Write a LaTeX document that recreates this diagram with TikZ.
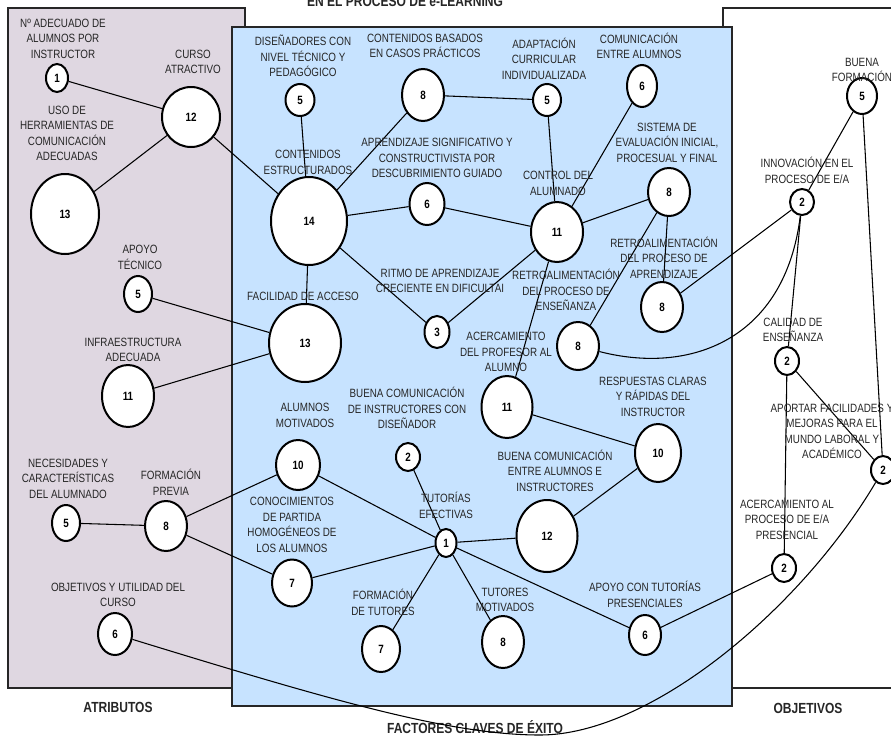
\documentclass[tikz,border=0pt]{standalone}
\usepackage{fontspec}
\setmainfont{Liberation Sans}[FakeStretch=0.82]
\usetikzlibrary{shapes.geometric}
\definecolor{mauve}{HTML}{DFD7E1}
\definecolor{skyb}{HTML}{C7E3FF}
\definecolor{txtgray}{HTML}{262626}
\tikzset{
  num/.style={ellipse, draw=black, line width=1.5pt, fill=white, inner sep=0pt,
    font=\fontsize{9}{11}\selectfont\bfseries},
  lbl/.style={align=center, inner sep=0pt, text=txtgray, font=\fontsize{9}{11.6}\selectfont},
  captxt/.style={anchor=base, inner sep=0pt, text=txtgray, font=\fontsize{11}{13}\selectfont\bfseries},
  link/.style={line width=0.8pt, draw=black},
  panel/.style={line width=2pt, draw=black!85},
}
\newcommand\nd[6]{\node[num, minimum width=#4*1.5pt, minimum height=#5*1.5pt] (#1) at (#2,#3) {#6};}
\begin{document}
\begin{tikzpicture}[x=0.75pt, y=-0.75pt]
\useasboundingbox (0,0) rectangle (891,736);
% panels
\draw[panel, fill=mauve] (8,8) rectangle (245,688);
\draw[panel, fill=white] (723,8) rectangle (905,688);
\draw[panel, fill=skyb] (232,27) rectangle (732,706);
% captions
\node[captxt] (ttl) at (405,6) {EN EL PROCESO DE e-LEARNING};
\node[captxt] (capA) at (118,712) {ATRIBUTOS};
\node[captxt] (capF) at (475,733) {FACTORES CLAVES DE ÉXITO};
\node[captxt] (capO) at (808,713) {OBJETIVOS};
% nodes: atributos
\nd{a1}{57}{78}{11}{14}{1}
\nd{a12}{191}{117}{29}{30}{12}
\nd{a13}{65}{214}{34}{40}{13}
\nd{a5}{138}{294}{14}{18}{5}
\nd{a11}{128}{396}{26}{31}{11}
\nd{a5b}{66}{523}{14}{18}{5}
\nd{a8}{166}{526}{21}{25}{8}
\nd{a6}{115}{634}{17}{21}{6}
% nodes: factores
\nd{f5a}{300}{100}{14.5}{16}{5}
\nd{f8a}{423}{95}{21}{26}{8}
\nd{f5b}{547}{100}{14}{16}{5}
\nd{f6b}{642}{86}{15}{21}{6}
\nd{f14}{309}{221}{38}{44}{14}
\nd{f6a}{427}{204}{17.5}{21}{6}
\nd{f11}{557}{232}{26}{30}{11}
\nd{f8b}{669}{192}{21}{24}{8}
\nd{f3}{437}{332}{12.5}{16}{3}
\nd{f13}{305}{343}{36}{39}{13}
\nd{f8d}{578}{346}{21}{24}{8}
\nd{f8c}{662}{307}{21}{25}{8}
\nd{f11b}{507}{407}{25.5}{31}{11}
\nd{f2b}{408}{457}{12}{14}{2}
\nd{f10a}{298}{465}{22}{25}{10}
\nd{f10b}{658}{453}{23}{29}{10}
\nd{f1b}{446}{543}{10.5}{14}{1}
\nd{f12b}{547}{536}{30.5}{36}{12}
\nd{f7a}{292}{583}{20}{23.5}{7}
\nd{f7b}{381}{649}{19}{23}{7}
\nd{f8f}{503}{642}{21}{26}{8}
\nd{f6d}{645}{635}{16}{20}{6}
% nodes: objetivos
\nd{o5}{862}{96}{15}{18}{5}
\nd{o2a}{802}{202}{12}{13}{2}
\nd{o2c}{787}{361}{12}{14}{2}
\nd{o2d}{883}{470}{12}{14}{2}
\nd{o2e}{784}{568}{12}{14}{2}
\coordinate (low) at (540,735);
% connectors
\draw[link] (a1) -- (a12);
\draw[link] (a13) -- (a12);
\draw[link] (a12) -- (f14);
\draw[link] (f5a) -- (f14);
\draw[link] (f8a) -- (f14);
\draw[link] (f14) -- (f6a);
\draw[link] (f6a) -- (f11);
\draw[link] (f14) -- (f13);
\draw[link] (f14) -- (f3);
\draw[link] (f3) -- (f11);
\draw[link] (f8a) -- (f5b);
\draw[link] (f5b) -- (f11);
\draw[link] (f6b) -- (f11);
\draw[link] (f11) -- (f8b);
\draw[link] (f8b) -- (f8d);
\draw[link] (f8b) -- (f8c);
\draw[link] (f11) -- (f11b);
\draw[link] (f8c) -- (o2a);
\draw[link] (f8d) .. controls (690,375) and (785,340) .. (o2a);
\draw[link] (o2a) -- (o2c);
\draw[link] (o5) -- (o2a);
\draw[link] (o5) -- (o2d);
\draw[link] (o2c) -- (o2d);
\draw[link] (o2c) -- (o2e);
\draw[link] (f6d) -- (o2e);
\draw[link] (f12b) -- (f10b);
\draw[link] (f11b) -- (f10b);
\draw[link] (f1b) -- (f12b);
\draw[link] (f2b) -- (f1b);
\draw[link] (f10a) -- (f1b);
\draw[link] (f7a) -- (f1b);
\draw[link] (f7b) -- (f1b);
\draw[link] (f8f) -- (f1b);
\draw[link] (f1b) -- (f6d);
\draw[link] (a8) -- (a5b);
\draw[link] (a8) -- (f10a);
\draw[link] (a8) -- (f7a);
\draw[link] (a5) -- (f13);
\draw[link] (a11) -- (f13);
\draw[link] (a6) .. controls (330,700) and (450,735) .. (low) .. controls (650,735) and (800,610) .. (o2d);
% labels
\node[lbl] (l1) at (63,38.5) {Nº ADECUADO DE\\ALUMNOS POR\\INSTRUCTOR};
\node[lbl] (l2) at (193,62) {CURSO\\ATRACTIVO};
\node[lbl] (l3) at (67,133.5) {USO DE\\HERRAMIENTAS DE\\COMUNICACIÓN\\ADECUADAS};
\node[lbl] (l4) at (303,56) {DISEÑADORES CON\\NIVEL TÉCNICO Y\\PEDAGÓGICO};
\node[lbl] (l5) at (425,46) {CONTENIDOS BASADOS\\EN CASOS PRÁCTICOS};
\node[lbl] (l6) at (544,58.5) {ADAPTACIÓN\\CURRICULAR\\INDIVIDUALIZADA};
\node[lbl] (l7) at (639,46) {COMUNICACIÓN\\ENTRE ALUMNOS};
\node[lbl] (l8) at (862,70) {BUENA\\FORMACIÓN};
\node[lbl] (l9) at (308,162.5) {CONTENIDOS\\ESTRUCTURADOS};
\node[lbl] (l10) at (437,158) {APRENDIZAJE SIGNIFICATIVO Y\\CONSTRUCTIVISTA POR\\DESCUBRIMIENTO GUIADO};
\node[lbl] (l11) at (558,183.5) {CONTROL DEL\\ALUMNADO};
\node[lbl] (l12) at (667,142.5) {SISTEMA DE\\EVALUACIÓN INICIAL,\\PROCESUAL Y FINAL};
\node[lbl] (l13) at (807,170.5) {INNOVACIÓN EN EL\\PROCESO DE E/A};
\node[lbl] (l14) at (140,257.5) {APOYO\\TÉCNICO};
\node[lbl] (l15) at (303,296) {FACILIDAD DE ACCESO};
\node[lbl] (l16) at (440,281) {RITMO DE APRENDIZAJE\\CRECIENTE EN DIFICULTAI};
\node[lbl] (l17) at (566,290) {RETROALIMENTACIÓN\\DEL PROCESO DE\\ENSEÑANZA};
\node[lbl] (l18) at (664,257.5) {RETROALIMENTACIÓN\\DEL PROCESO DE\\APRENDIZAJE};
\node[lbl] (l19) at (133,350) {INFRAESTRUCTURA\\ADECUADA};
\node[lbl] (l20) at (506,352) {ACERCAMIENTO\\DEL PROFESOR AL\\ALUMNO};
\node[lbl] (l21) at (793,330) {CALIDAD DE\\ENSEÑANZA};
\node[lbl] (l22) at (653,396.5) {RESPUESTAS CLARAS\\Y RÁPIDAS DEL\\INSTRUCTOR};
\node[lbl] (l23) at (407,408) {BUENA COMUNICACIÓN\\DE INSTRUCTORES CON\\DISEÑADOR};
\node[lbl] (l24) at (305,415.5) {ALUMNOS\\MOTIVADOS};
\node[lbl] (l25) at (832,431.5) {APORTAR FACILIDADES Y\\MEJORAS PARA EL\\MUNDO LABORAL Y\\ACADÉMICO};
\node[lbl] (l26) at (555,470.5) {BUENA COMUNICACIÓN\\ENTRE ALUMNOS E\\INSTRUCTORES};
\node[lbl] (l27) at (68,478.5) {NECESIDADES Y\\CARACTERÍSTICAS\\DEL ALUMNADO};
\node[lbl] (l28) at (171,482.5) {FORMACIÓN\\PREVIA};
\node[lbl] (l29) at (292,525) {CONOCIMIENTOS\\DE PARTIDA\\HOMOGÉNEOS DE\\LOS ALUMNOS};
\node[lbl] (l30) at (446,505.5) {TUTORÍAS\\EFECTIVAS};
\node[lbl] (l31) at (787,519.5) {ACERCAMIENTO AL\\PROCESO DE E/A\\PRESENCIAL};
\node[lbl] (l32) at (118,595) {OBJETIVOS Y UTILIDAD DEL\\CURSO};
\node[lbl] (l33) at (645,594.5) {APOYO CON TUTORÍAS\\PRESENCIALES};
\node[lbl] (l34) at (383,602.5) {FORMACIÓN\\DE TUTORES};
\node[lbl] (l35) at (505,600) {TUTORES\\MOTIVADOS};
\end{tikzpicture}
\end{document}
